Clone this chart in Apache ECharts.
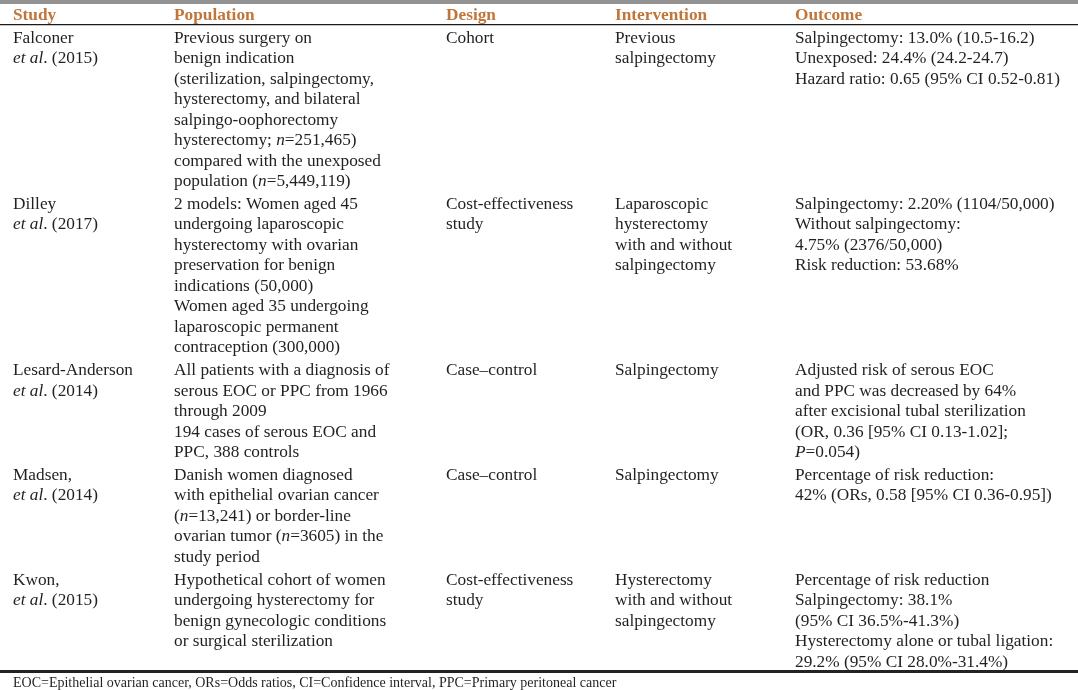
<!DOCTYPE html>
<html><head><meta charset="utf-8">
<script src="https://cdn.jsdelivr.net/npm/echarts@6/dist/echarts.min.js"></script>
<style>html,body{margin:0;padding:0;background:#fff}#c{width:1078px;height:690px}</style>
</head><body><div id="c"></div>
<script>
// ---------- data ----------
const headers = ['Study', 'Population', 'Design', 'Intervention', 'Outcome'];
const studies = [
  ['Falconer', '{i|et al}. (2015)'],
  ['Dilley', '{i|et al}. (2017)'],
  ['Lesard-Anderson', '{i|et al}. (2014)'],
  ['Madsen,', '{i|et al}. (2014)'],
  ['Kwon,', '{i|et al}. (2015)']
];
const populations = [
  ['Previous surgery on', 'benign indication', '(sterilization, salpingectomy,', 'hysterectomy, and bilateral',
   'salpingo-oophorectomy', 'hysterectomy; {i|n}=251,465)', 'compared with the unexposed', 'population ({i|n}=5,449,119)'],
  ['2 models: Women aged 45', 'undergoing laparoscopic', 'hysterectomy with ovarian', 'preservation for benign',
   'indications (50,000)', 'Women aged 35 undergoing', 'laparoscopic permanent', 'contraception (300,000)'],
  ['All patients with a diagnosis of', 'serous EOC or PPC from 1966', 'through 2009', '194 cases of serous EOC and', 'PPC, 388 controls'],
  ['Danish women diagnosed', 'with epithelial ovarian cancer', '({i|n}=13,241) or border-line', 'ovarian tumor ({i|n}=3605) in the', 'study period'],
  ['Hypothetical cohort of women', 'undergoing hysterectomy for', 'benign gynecologic conditions', 'or surgical sterilization']
];
const designs = [
  ['Cohort'],
  ['Cost-effectiveness', 'study'],
  ['Case\u2013control'],
  ['Case\u2013control'],
  ['Cost-effectiveness', 'study']
];
const interventions = [
  ['Previous', 'salpingectomy'],
  ['Laparoscopic', 'hysterectomy', 'with and without', 'salpingectomy'],
  ['Salpingectomy'],
  ['Salpingectomy'],
  ['Hysterectomy', 'with and without', 'salpingectomy']
];
const outcomes = [
  ['Salpingectomy: 13.0% (10.5-16.2)', 'Unexposed: 24.4% (24.2-24.7)', 'Hazard ratio: 0.65 (95% CI 0.52-0.81)'],
  ['Salpingectomy: 2.20% (1104/50,000)', 'Without salpingectomy:', '4.75% (2376/50,000)', 'Risk reduction: 53.68%'],
  ['Adjusted risk of serous EOC', 'and PPC was decreased by 64%', 'after excisional tubal sterilization',
   '(OR, 0.36 [95% CI 0.13-1.02];', '{i|P}=0.054)'],
  ['Percentage of risk reduction:', '42% (ORs, 0.58 [95% CI 0.36-0.95])'],
  ['Percentage of risk reduction', 'Salpingectomy: 38.1%', '(95% CI 36.5%-41.3%)',
   'Hysterectomy alone or tubal ligation:', '29.2% (95% CI 28.0%-31.4%)']
];
const footnote = 'EOC=Epithelial ovarian cancer, ORs=Odds ratios, CI=Confidence interval, PPC=Primary peritoneal cancer';

// ---------- layout / style ----------
const W = 1078, H = 690;
const colX = [13, 174, 446, 615, 795];
const headerY = 15.5, firstY = 38, lineH = 20.5, rowGap = 2.3;
const footY = 683;
const FONT = "'Liberation Serif', 'Times New Roman', serif";
const BODY_COLOR = '#231f20', HEAD_COLOR = '#c0763a';

const columns = [studies, populations, designs, interventions, outcomes];
const cells = [];
headers.forEach((h, c) => cells.push({ value: [colX[c], headerY], text: h, kind: 'head' }));
let y = firstY;
for (let r = 0; r < studies.length; r++) {
  let n = 0;
  columns.forEach((col, c) => {
    col[r].forEach((t, l) => cells.push({ value: [colX[c], y + l * lineH], text: t, kind: 'body' }));
    n = Math.max(n, col[r].length);
  });
  y += n * lineH + rowGap;
}
cells.push({ value: [colX[0], footY], text: footnote, kind: 'foot' });

const styles = {
  head: { fontSize: 17.3, fontWeight: 'bold', fill: HEAD_COLOR },
  body: { fontSize: 17.3, fontWeight: 'normal', fill: BODY_COLOR },
  foot: { fontSize: 14, fontWeight: 'normal', fill: BODY_COLOR }
};

const chart = echarts.init(document.getElementById('c'), null, { renderer: 'canvas' });
chart.setOption({
  animation: false,
  backgroundColor: '#fff',
  grid: { left: 0, right: 0, top: 0, bottom: 0 },
  xAxis: { type: 'value', min: 0, max: W, show: false },
  yAxis: { type: 'value', min: 0, max: H, inverse: true, show: false },
  graphic: [
    { type: 'rect', shape: { x: 0, y: 0, width: W, height: 4 }, style: { fill: '#929292' }, silent: true },
    { type: 'rect', shape: { x: 0, y: 24, width: W, height: 1.2 }, style: { fill: '#1a1a1a' }, silent: true },
    { type: 'rect', shape: { x: 0, y: 670, width: W, height: 3 }, style: { fill: '#222' }, silent: true }
  ],
  series: [{
    type: 'custom',
    coordinateSystem: 'cartesian2d',
    silent: true,
    data: cells.map(d => d.value),
    renderItem: (params, api) => {
      const d = cells[params.dataIndex];
      const s = styles[d.kind];
      const p = api.coord([api.value(0), api.value(1)]);
      return {
        type: 'text',
        x: p[0], y: p[1],
        style: {
          text: d.text,
          fontFamily: FONT, fontSize: s.fontSize, fontWeight: s.fontWeight,
          fill: s.fill, align: 'left', verticalAlign: 'middle',
          rich: {
            i: { fontFamily: FONT, fontSize: s.fontSize, fontStyle: 'italic', fill: s.fill }
          }
        }
      };
    }
  }]
});
</script></body></html>
